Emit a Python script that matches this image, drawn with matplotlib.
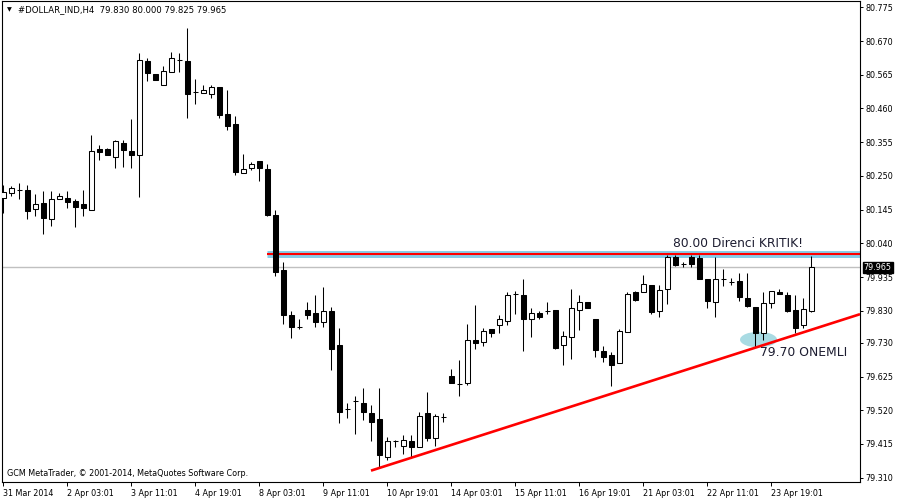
import matplotlib
matplotlib.use("Agg")
import matplotlib.pyplot as plt
from matplotlib.patches import Ellipse
from matplotlib.transforms import blended_transform_factory

# ---------------- data (H4 candles, #DOLLAR_IND) ----------------
opens = [80.180, 80.196, 80.206, 80.206, 80.146, 80.166, 80.117, 80.177, 80.180, 80.172,
         80.162, 80.145, 80.334, 80.334, 80.308, 80.352, 80.327, 80.316, 80.608, 80.566,
         80.534, 80.574, 80.611, 80.608, 80.512, 80.507, 80.506, 80.527, 80.443, 80.412,
         80.260, 80.275, 80.296, 80.271, 80.128, 79.957, 79.817, 79.781, 79.832, 79.823,
         79.796, 79.829, 79.723, 79.526, 79.549, 79.543, 79.512, 79.493, 79.375, 79.425,
         79.408, 79.424, 79.407, 79.511, 79.435, 79.501, 79.626, 79.602, 79.606, 79.739,
         79.732, 79.772, 79.787, 79.797, 79.884, 79.879, 79.805, 79.823, 79.831, 79.832,
         79.722, 79.747, 79.831, 79.857, 79.804, 79.705, 79.692, 79.666, 79.763, 79.888,
         79.888, 79.910, 79.830, 79.897, 79.996, 79.977, 79.998, 79.993, 79.929, 79.856,
         79.928, 79.921, 79.922, 79.869, 79.842, 79.760, 79.853, 79.889, 79.878, 79.832,
         79.785, 79.830]
highs = [80.222, 80.219, 80.227, 80.222, 80.194, 80.203, 80.203, 80.197, 80.203, 80.178,
         80.206, 80.377, 80.346, 80.337, 80.362, 80.362, 80.427, 80.632, 80.616, 80.566,
         80.592, 80.636, 80.633, 80.711, 80.552, 80.532, 80.533, 80.527, 80.517, 80.436,
         80.318, 80.292, 80.296, 80.287, 80.144, 79.982, 79.829, 79.803, 79.857, 79.879,
         79.904, 79.842, 79.776, 79.544, 79.564, 79.589, 79.537, 79.589, 79.437, 79.428,
         79.443, 79.443, 79.516, 79.577, 79.508, 79.511, 79.649, 79.677, 79.789, 79.848,
         79.775, 79.772, 79.817, 79.887, 79.890, 79.929, 79.838, 79.828, 79.857, 79.832,
         79.768, 79.898, 79.879, 79.857, 79.804, 79.720, 79.701, 79.772, 79.889, 79.890,
         79.941, 79.910, 79.910, 80.005, 80.005, 79.983, 80.005, 80.003, 79.929, 79.998,
         79.959, 79.931, 79.947, 79.947, 79.842, 79.889, 79.890, 79.898, 79.887, 79.878,
         79.869, 80.000]
lows = [80.135, 80.187, 80.178, 80.116, 80.126, 80.070, 80.095, 80.177, 80.151, 80.092,
        80.126, 80.145, 80.300, 80.316, 80.275, 80.279, 80.275, 80.185, 80.545, 80.550,
        80.534, 80.574, 80.574, 80.431, 80.475, 80.507, 80.493, 80.431, 80.394, 80.254,
        80.260, 80.269, 80.234, 80.125, 79.939, 79.790, 79.746, 79.774, 79.805, 79.780,
        79.780, 79.646, 79.481, 79.497, 79.447, 79.491, 79.425, 79.341, 79.366, 79.407,
        79.384, 79.375, 79.407, 79.425, 79.410, 79.484, 79.606, 79.565, 79.600, 79.712,
        79.720, 79.749, 79.762, 79.787, 79.821, 79.706, 79.749, 79.805, 79.821, 79.712,
        79.662, 79.681, 79.771, 79.838, 79.687, 79.671, 79.597, 79.666, 79.763, 79.859,
        79.888, 79.819, 79.811, 79.850, 79.969, 79.965, 79.967, 79.928, 79.838, 79.811,
        79.907, 79.911, 79.861, 79.841, 79.716, 79.739, 79.838, 79.881, 79.826, 79.762,
        79.775, 79.825]
closes = [80.199, 80.211, 80.205, 80.142, 80.162, 80.120, 80.177, 80.186, 80.169, 80.154,
          80.151, 80.327, 80.325, 80.316, 80.358, 80.331, 80.316, 80.610, 80.571, 80.550,
          80.576, 80.616, 80.610, 80.506, 80.511, 80.516, 80.527, 80.440, 80.406, 80.262,
          80.271, 80.286, 80.275, 80.128, 79.952, 79.818, 79.780, 79.780, 79.818, 79.796,
          79.829, 79.712, 79.516, 79.525, 79.548, 79.516, 79.484, 79.382, 79.423, 79.424,
          79.427, 79.407, 79.502, 79.435, 79.502, 79.500, 79.606, 79.601, 79.738, 79.730,
          79.766, 79.762, 79.803, 79.878, 79.883, 79.805, 79.822, 79.811, 79.830, 79.715,
          79.750, 79.838, 79.857, 79.839, 79.707, 79.687, 79.662, 79.766, 79.882, 79.863,
          79.912, 79.825, 79.896, 79.996, 79.972, 79.976, 79.975, 79.928, 79.861, 79.928,
          79.927, 79.920, 79.874, 79.846, 79.762, 79.853, 79.890, 79.881, 79.830, 79.775,
          79.835, 79.965]

xtick_labels = ["31 Mar 2014", "2 Apr 03:01", "3 Apr 11:01", "4 Apr 19:01", "8 Apr 03:01",
                "9 Apr 11:01", "10 Apr 19:01", "14 Apr 03:01", "15 Apr 11:01", "16 Apr 19:01",
                "21 Apr 03:01", "22 Apr 11:01", "23 Apr 19:01"]
ytick_values = [80.775, 80.670, 80.565, 80.460, 80.355, 80.250, 80.145, 80.040,
                79.935, 79.830, 79.730, 79.625, 79.520, 79.415, 79.310]

last_price = 79.965
resistance_level = 80.006
resistance_start = 33
trend_points = [(46, 79.332), (94, 79.7146)]
support_note = (94.44, 79.740)
header = "#DOLLAR_IND,H4  79.830 80.000 79.825 79.965"
footer = "GCM MetaTrader, \u00a9 2001-2014, MetaQuotes Software Corp."

# ---------------- figure ----------------
W, H = 900, 500
fig = plt.figure(figsize=(9, 5), dpi=100)
fig.patch.set_facecolor("white")
ax = fig.add_axes([2 / W, 18 / H, 858 / W, 481 / H])
ax.set_facecolor("white")

XMIN, XMAX = -0.125, 107.125
ax.set_xlim(XMIN, XMAX)
ax.set_ylim(79.2966, 80.7946)

# current price line
ax.axhline(last_price, color="#c0c0c0", lw=1.0, zorder=1)

# resistance ray (blue band + red line)
ax.plot([resistance_start, XMAX], [resistance_level + 0.002] * 2, color="#87cde8",
        lw=5.0, solid_capstyle="butt", zorder=1.5)
ax.plot([resistance_start, XMAX], [resistance_level] * 2, color="#ff0000",
        lw=1.5, solid_capstyle="butt", zorder=1.6)

# support ellipse
ax.add_patch(Ellipse(support_note, width=37 / 8, height=15.6 / 321.1,
                     facecolor="#a9dbe3", edgecolor="none", zorder=1.2))

# trendline ray
(x0, y0), (x1, y1) = trend_points
slope = (y1 - y0) / (x1 - x0)
ax.plot([x0, XMAX], [y0, y0 + slope * (XMAX - x0)], color="#ff0000", lw=1.9,
        solid_capstyle="butt", zorder=4)

# candles
n = len(opens)
xs = list(range(n))
ax.vlines(xs, lows, highs, color="black", lw=0.75, zorder=2)
bw = 0.625
for i in xs:
    o, c = opens[i], closes[i]
    bottom = min(o, c)
    h = abs(c - o)
    fc = "white" if c > o else "black"
    if h < 0.002:
        ax.hlines((o + c) / 2, i - bw / 2, i + bw / 2, color="black", lw=0.75, zorder=3)
    else:
        ax.bar(i, h, bottom=bottom, width=bw, facecolor=fc, edgecolor="black",
               linewidth=0.75, zorder=3)

# annotations
txt_color = "#1c1c30"
ax.text(83.75, 80.018, "80.00 Direnci KRITIK!", fontsize=8.8, color=txt_color,
        ha="left", va="bottom", zorder=5)
ax.text(94.6, 79.70, "79.70 ONEMLI", fontsize=8.9, color=txt_color,
        ha="left", va="center", zorder=5)

# axes styling
for s in ax.spines.values():
    s.set_color("black")
    s.set_linewidth(0.8)
ax.yaxis.tick_right()
ax.set_yticks(ytick_values)
ax.set_yticklabels([f"{v:.3f}" for v in ytick_values])
ax.tick_params(axis="y", direction="out", length=2.5, width=0.7, labelsize=5.8,
               pad=1.5, colors="black")
ax.set_xticks(list(range(0, 8 * len(xtick_labels), 8)))
ax.set_xticklabels(xtick_labels, ha="left")
ax.tick_params(axis="x", direction="out", length=3, width=0.7, labelsize=5.8,
               pad=2, colors="black")

# current price label box
trans = blended_transform_factory(ax.transAxes, ax.transData)
ax.text(1.0045, last_price, f"{last_price:.3f}", transform=trans, fontsize=5.8,
        color="white", ha="left", va="center",
        bbox=dict(boxstyle="square,pad=0.12", facecolor="black", edgecolor="black"),
        zorder=6, clip_on=False)

# header & footer
fig.text(7 / W, 1 - 10 / H, "\u25bc", fontsize=4.5, color="black", ha="left", va="center")
fig.text(18 / W, 1 - 10 / H, header, fontsize=6.1, color="black", ha="left", va="center")
fig.text(7 / W, 1 - 474 / H, footer, fontsize=5.8, color="black", ha="left", va="center")

fig.savefig("out.png", dpi=100, facecolor="white")
